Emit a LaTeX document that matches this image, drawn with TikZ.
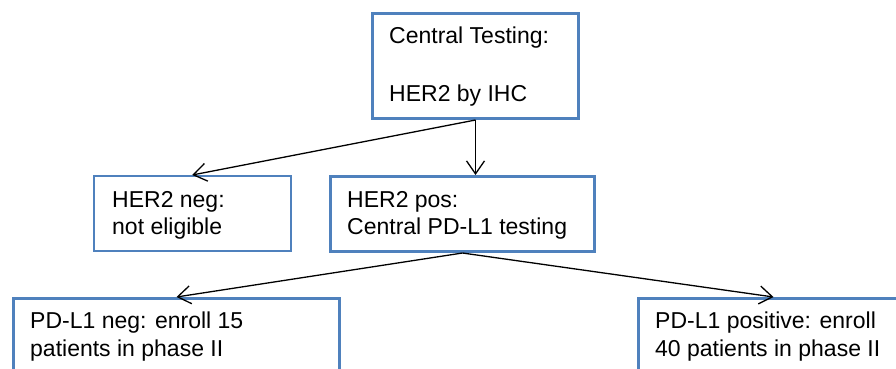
\documentclass[tikz,border=0pt]{standalone}
\usepackage{fontspec}
\setmainfont{Liberation Sans}
\usetikzlibrary{arrows.meta}
\definecolor{boxblue}{RGB}{79,129,189}
\tikzset{
  thickbox/.style={draw=boxblue, line width=3pt, fill=white, anchor=north west, inner sep=0pt},
  thinbox/.style={draw=boxblue, line width=1.5pt, fill=white, anchor=north west, inner sep=0pt},
  txt/.style={anchor=base west, inner sep=0pt, font=\fontsize{23}{28}\selectfont},
  conn/.style={draw=black, line width=1.3pt, -{Straight Barb[length=13pt,width=18pt,line width=1.3pt]}}
}
\begin{document}
\begin{tikzpicture}[x=1pt,y=-1pt]
\useasboundingbox (0,0) rectangle (896,369);
\clip (0,0) rectangle (896,369);

% boxes
\node[thickbox, minimum width=206pt, minimum height=105pt] (top) at (371,12) {};
\node[thinbox, minimum width=197pt, minimum height=75pt] (neg) at (93,175) {};
\node[thickbox, minimum width=264pt, minimum height=75pt] (pos) at (329,175) {};
\node[thickbox, minimum width=326pt, minimum height=120pt] (pdneg) at (12,297) {};
\node[thickbox, minimum width=270pt, minimum height=120pt] (pdpos) at (637,297) {};

% labels
\node[txt] (t1) at (389,44) {Central Testing:};
\node[txt] (t2) at (389,101) {HER2 by IHC};
\node[txt] (n1) at (112,207) {HER2 neg:};
\node[txt] (n2) at (112,234) {not eligible};
\node[txt] (p1) at (347,207) {HER2 pos:};
\node[txt] (p2) at (347,234) {Central PD-L1 testing};
\node[txt] (a1) at (30,328) {PD-L1 neg: enroll 15};
\node[txt] (a2) at (30,356) {patients in phase II};
\node[txt] (b1) at (655,328) {PD-L1 positive: enroll};
\node[txt] (b2) at (655,356) {40 patients in phase II};

% connectors
\draw[conn] (top.south) -- (top.south |- pos.north);
\draw[conn] (top.south) -- (neg.north);
\draw[conn] (pos.south) -- (pdneg.north);
\draw[conn] (pos.south) -- (pdpos.north);
\end{tikzpicture}
\end{document}
